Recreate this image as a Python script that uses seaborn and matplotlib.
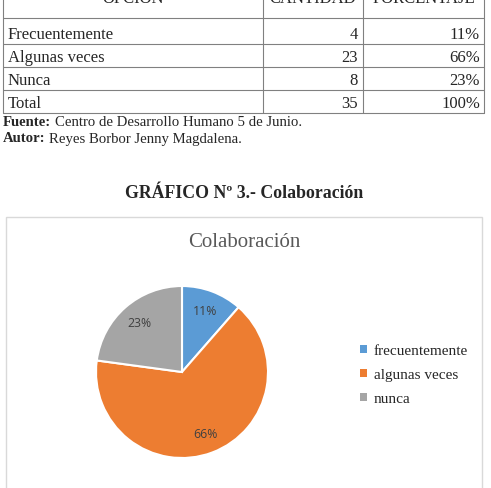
import matplotlib
matplotlib.use("Agg")
import matplotlib.pyplot as plt
import seaborn as sns
from matplotlib.patches import Rectangle
from matplotlib.lines import Line2D

# ---- data ----
table_header = ["OPCIÓN", "CANTIDAD", "PORCENTAJE"]
options = ["Frecuentemente", "Algunas veces", "Nunca", "Total"]
quantities = [4, 23, 8, 35]
percentages = ["11%", "66%", "23%", "100%"]
pie_labels = ["frecuentemente", "algunas veces", "nunca"]
pie_values = [4, 23, 8]
pie_colors = ["#5B9BD5", "#ED7D31", "#A5A5A5"]
source_text = "Centro de Desarrollo Humano 5 de Junio."
author_text = "Reyes Borbor Jenny Magdalena."
figure_title = "GRÁFICO Nº 3.- Colaboración"
chart_title = "Colaboración"

sns.set_theme(style="white")
plt.rcParams["font.family"] = ["Liberation Serif", "DejaVu Serif"]

W, H = 491, 489
fig = plt.figure(figsize=(W / 100, H / 100), dpi=100)
fig.patch.set_facecolor("white")

def fx(x):
    return x / W

def fy(y):
    return 1 - y / H

def hline(x0, x1, y, color="#808080", lw=0.8):
    fig.add_artist(Line2D([fx(x0), fx(x1)], [fy(y), fy(y)], color=color, lw=lw,
                          transform=fig.transFigure))

def vline(x, y0, y1, color="#808080", lw=0.8):
    fig.add_artist(Line2D([fx(x), fx(x)], [fy(y0), fy(y1)], color=color, lw=lw,
                          transform=fig.transFigure))

# ---- table ----
tl, c1, c2, tr = 3, 263, 363, 484
row_lines = [-10, 19, 45, 68, 91, 114]
for y in row_lines[1:]:
    hline(tl, tr, y)
for x in (tl, c1, c2, tr):
    vline(x, 0, row_lines[-1])
fs_tab = 12
# header (cut off at the top, as in the scanned page)
hdr_x = [(tl + c1) / 2, (c1 + c2) / 2, (c2 + tr) / 2]
for hx, ht in zip(hdr_x, table_header):
    fig.text(fx(hx), fy(3), ht, ha="center", va="baseline", fontsize=fs_tab)
for i, (opt, q, p) in enumerate(zip(options, quantities, percentages)):
    yb = row_lines[i + 2] - 6
    fig.text(fx(tl + 5), fy(yb), opt, ha="left", va="baseline", fontsize=fs_tab)
    fig.text(fx(c2 - 5), fy(yb), str(q), ha="right", va="baseline", fontsize=fs_tab)
    fig.text(fx(tr - 4), fy(yb), p, ha="right", va="baseline", fontsize=fs_tab)

# ---- source / author ----
renderer = fig.canvas.get_renderer()
def label_line(y, bold, rest, fs=10.6):
    t = fig.text(fx(3), fy(y), bold, ha="left", va="center", fontsize=fs, fontweight="bold")
    bb = t.get_window_extent(renderer=renderer)
    x_end_px = bb.x1 + 3.5
    fig.text(x_end_px / W, fy(y), rest, ha="left", va="center", fontsize=fs)

label_line(122, "Fuente:", source_text)
label_line(139, "Autor:", author_text)

# ---- figure title ----
fig.text(fx(244), fy(194), figure_title, ha="center", va="center", fontsize=12.8,
         fontweight="bold")

# ---- chart box ----
fig.add_artist(Rectangle((fx(6), fy(495)), fx(482) - fx(6), fy(218) - fy(495),
                         transform=fig.transFigure, fill=False, edgecolor="#D9D9D9", lw=1))
fig.text(fx(244), fy(243), chart_title, ha="center", va="center", fontsize=15,
         color="#595959")

# ---- pie ----
cx, cy, r = 182, 373, 86
ax = fig.add_axes([fx(cx - r), fy(cy + r), (2 * r) / W, (2 * r) / H])
wedges, texts, autotexts = ax.pie(
    pie_values, colors=pie_colors, startangle=90, counterclock=False,
    autopct="%.0f%%", pctdistance=0.76,
    wedgeprops=dict(edgecolor="white", linewidth=1.5),
    textprops=dict(color="#404040", fontsize=8.8, family=["Open Sans", "DejaVu Sans"]))
ax.set_xlim(-1, 1)
ax.set_ylim(-1, 1)
ax.set_aspect("equal")
ax.axis("off")

# ---- legend ----
handles = [Rectangle((0, 0), 1, 1, facecolor=c, edgecolor="none") for c in pie_colors]
fig.legend(handles, pie_labels, loc="upper left", bbox_to_anchor=(fx(354), fy(339)),
           frameon=False, fontsize=11, handlelength=0.45, handleheight=0.45,
           handletextpad=0.45, labelspacing=0.72, borderaxespad=0)

fig.savefig("out.png", dpi=100, facecolor="white")
